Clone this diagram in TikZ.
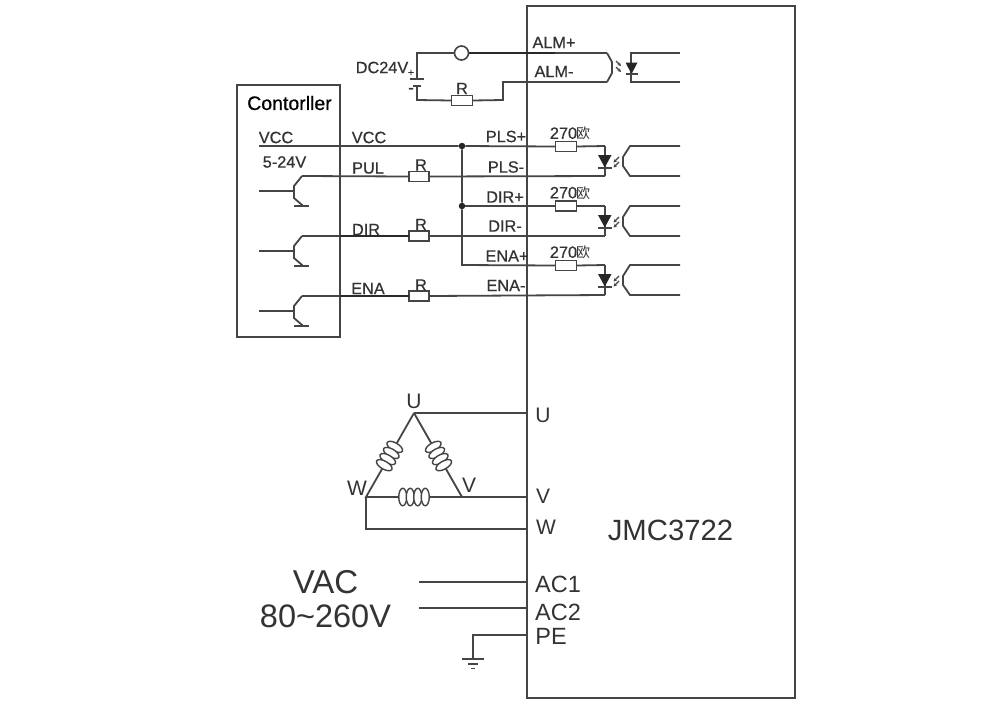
\documentclass[tikz,border=0pt]{standalone}
\usepackage{fontspec}
\setmainfont{Liberation Sans}
\newfontfamily\cjkf{Noto Sans CJK SC}
\newfontfamily\labf[FakeBold=0.6]{Liberation Sans}
\usetikzlibrary{arrows.meta,shapes.geometric}
\definecolor{ink}{gray}{0.27}
\definecolor{txt}{gray}{0.2}
\tikzset{
  wire/.style={draw=ink,line width=1.8pt,line join=miter},
  heavy/.style={draw=ink!60!black,line width=2.5pt},
  frame/.style={draw=ink,line width=2pt,outer sep=0pt,inner sep=0pt,anchor=north west},
  res/.style={draw=ink,line width=1.6pt,fill=white,minimum width=21pt,minimum height=10pt,inner sep=0pt,outer sep=0pt},
  dot/.style={circle,fill=black!85,inner sep=0pt,minimum size=6.5pt},
  lab/.style={text=txt,inner sep=0pt,font=\labf\fontsize{16.3}{16.3}\selectfont},
  big/.style={text=txt,inner sep=0pt,font=\fontsize{21}{21}\selectfont},
  coil/.style={draw=ink,line width=1.4pt,fill=white,ellipse,minimum width=8pt,minimum height=17.5pt,inner sep=0pt},
  diodefill/.style={fill=black!85,draw=none},
  photo/.style={ink,line width=1.2pt,-{Stealth[length=3.5pt,width=3.5pt]}},
}
% optocoupler input diode + output phototransistor; #1=name #2=top y
\newcommand{\optoinput}[2]{%
  \coordinate (#1T) at (605,#2);
  \coordinate (#1B) at (605,#2+30);
  \draw[wire] (#1T) -- (#1B);
  \fill[diodefill] (598,#2+9) -- (611.5,#2+9) -- (604.8,#2+21.5) -- cycle;
  \draw[wire,line width=1.4pt] (598,#2+22) -- (611.5,#2+22);
  \draw[photo] (619,#2+11) -- (613.5,#2+16.5);
  \draw[photo] (619,#2+16) -- (613.5,#2+21.5);
  \draw[wire] (680,#2) -- (630,#2) -- (623,#2+11) -- (623,#2+20) -- (630,#2+30) -- (680,#2+30);
}
% controller transistor; #1=name #2=collector line y
\newcommand{\ctrltrans}[2]{%
  \coordinate (#1C) at (302,#2);
  \coordinate (#1In) at (259,#2+15);
  \coordinate (#1Bs) at (294,#2+15);
  \draw[wire] (#1In) -- (#1Bs);
  \draw[wire] (#1C) -- (294,#2+10) -- (294,#2+22) -- (302,#2+29) -- (302,#2+30);
  \draw[wire] (294,#2+30) -- (309,#2+30);
}
\begin{document}
\begin{tikzpicture}[x=1pt,y=-1pt]
\useasboundingbox (0,0) rectangle (1000,705);
\fill[white] (0,0) rectangle (1000,705);

% frames
\node[frame,minimum width=268pt,minimum height=692pt] (drv) at (527,6) {};
\node[frame,minimum width=103pt,minimum height=252pt] (ctl) at (237,85) {};

% ALM section
\coordinate (batP) at (417,79);
\coordinate (batN) at (417,86);
\coordinate (almTL) at (417,53);
\coordinate (almT) at (607,53);
\coordinate (almB) at (607,82);
\coordinate (almJ) at (503,82);
\coordinate (almK) at (503,100);
\coordinate (almL) at (417,100);
\node[circle,draw=ink,line width=1.6pt,fill=white,minimum size=14pt,inner sep=0pt] (lamp) at (461.5,53) {};
\node[res] (Ra) at (462,100.5) {};
\draw[wire] (batP) -- (almTL) -- (lamp.west);
\draw[heavy] (lamp.east) -- (555,53);
\draw[wire] (555,53) -- (almT);
\draw[wire] (batN) -- (almL) -- (Ra.west);
\draw[wire] (Ra.east) -- (almK) -- (almJ) -- (almB);
\draw[wire] (410,79) -- (424,79);
\draw[wire] (413,86) -- (421,86);
\draw[wire] (almT) -- (612,62) -- (612,73) -- (almB);
\draw[photo] (616,61) -- (621,66);
\draw[photo] (616,67) -- (621,72);
\draw[wire] (680,53) -- (631,53) -- (631,82) -- (680,82);
\fill[diodefill] (625.5,62.5) -- (637.5,62.5) -- (631.5,74) -- cycle;
\draw[wire,line width=1.4pt] (625.5,74) -- (637.5,74);

% Inputs
\optoinput{pls}{146}
\optoinput{dir}{206}
\optoinput{ena}{265}
\ctrltrans{tp}{176}
\ctrltrans{td}{236}
\ctrltrans{te}{296}

\coordinate (vccS) at (259,146);
\node[dot] (j1) at (462,146) {};
\node[dot] (j2) at (462,206) {};
\coordinate (j3) at (462,265);
\node[res] (R1) at (566,146.5) {};
\node[res] (R2) at (566,206) {};
\node[res] (R3) at (566,265.5) {};
\node[res,minimum width=20pt] (Rp) at (419,176.5) {};
\node[res,minimum width=20pt] (Rd) at (419,236) {};
\node[res,minimum width=20pt] (Re) at (419,296) {};

\draw[wire] (vccS) -- (j1) -- (R1.west);
\draw[wire] (R1.east) -- (plsT);
\draw[wire] (j1) -- (j2) -- (j3) -- (R3.west);
\draw[wire] (j2) -- (R2.west);
\draw[wire] (R2.east) -- (dirT);
\draw[wire] (R3.east) -- (enaT);
\draw[wire] (tpC) -- (Rp.west);
\draw[wire] (Rp.east) -- (plsB);
\draw[wire] (tdC) -- (Rd.west);
\draw[wire] (Rd.east) -- (dirB);
\draw[wire] (teC) -- (Re.west);
\draw[wire] (Re.east) -- (enaB);
\draw[heavy] (340,236) -- (Rd.west);
\draw[heavy] (340,296) -- (Re.west);

% Motor triangle
\coordinate (U) at (414,413);
\coordinate (V) at (462,497);
\coordinate (W) at (366,497);
\coordinate (Wb) at (366,529);
\draw[wire] (U) -- (527,413);
\draw[wire] (U) -- (W) -- (V) -- (527,497);
\draw[wire] (V) -- (U);
\draw[wire] (W) -- (Wb) -- (527,529);
% coils
\foreach \i in {-1.5,-0.5,0.5,1.5}{
  \node[coil] at (414+\i*7.5,497) {};
  \node[coil,rotate=60] at (389.5-\i*3.5,456+\i*6.1) {};
  \node[coil,rotate=-60] at (438.5+\i*3.5,456+\i*6.1) {};
}

% AC lines
\coordinate (acA) at (419,582);
\coordinate (acB) at (419,608);
\coordinate (pe) at (473,635);
\coordinate (gnd) at (473,659);
\draw[wire] (acA) -- (527,582);
\draw[wire] (acB) -- (527,608);
\draw[wire] (527,635) -- (pe) -- (gnd);
\draw[wire] (462,659) -- (484,659);
\draw[wire] (468,664) -- (478,664);
\draw[wire] (471,668.5) -- (475,668.5);

% Text
\node[lab,text=black,font=\labf\fontsize{19.5}{19.5}\selectfont] at (289.5,103) {Contorller};
\node[lab] at (276,137.5) {VCC};
\node[lab] at (284.5,162) {5-24V};
\node[lab] at (369,137.5) {VCC};
\node[lab] at (368,168) {PUL};
\node[lab] at (366,229.5) {DIR};
\node[lab] at (368,288.5) {ENA};
\node[lab] at (421,165) {R};
\node[lab] at (421,224.5) {R};
\node[lab] at (421,285) {R};
\node[lab] at (462,88.5) {R};
\node[lab] at (506,136.5) {PLS+};
\node[lab] at (506,167) {PLS-};
\node[lab] at (505,197) {DIR+};
\node[lab] at (505,226) {DIR-};
\node[lab] at (507,256) {ENA+};
\node[lab] at (506,285.5) {ENA-};
\foreach \y in {133.5,193,252.5}{
  \node[lab] at (570,\y) {270\kern-1pt{\cjkf\fontsize{14}{14}\selectfont 欧}};
}
\node[lab] at (554,42.5) {ALM+};
\node[lab] at (554,71.5) {ALM-};
\node[lab] at (382,67.5) {DC24V};
\node[lab,font=\labf\fontsize{11}{11}\selectfont] at (411,73) {+};
\node[lab] at (411,90.5) {-};
\node[big] at (414,401) {U};
\node[big] at (469,485) {V};
\node[big] at (357,488) {W};
\node[big] at (543,415) {U};
\node[big] at (543,496) {V};
\node[big] at (546,527) {W};
\node[big,font=\fontsize{29.3}{29.3}\selectfont] at (670.5,530) {JMC3722};
\node[big,font=\fontsize{33}{33}\selectfont] at (325.5,582) {VAC};
\node[big,font=\fontsize{32.5}{32.5}\selectfont] at (325.5,616) {80\textasciitilde 260V};
\node[big,font=\fontsize{23.5}{23.5}\selectfont] at (558,584) {AC1};
\node[big,font=\fontsize{23.5}{23.5}\selectfont] at (558,612) {AC2};
\node[big,font=\fontsize{23.5}{23.5}\selectfont] at (551,636) {PE};
\end{tikzpicture}
\end{document}
